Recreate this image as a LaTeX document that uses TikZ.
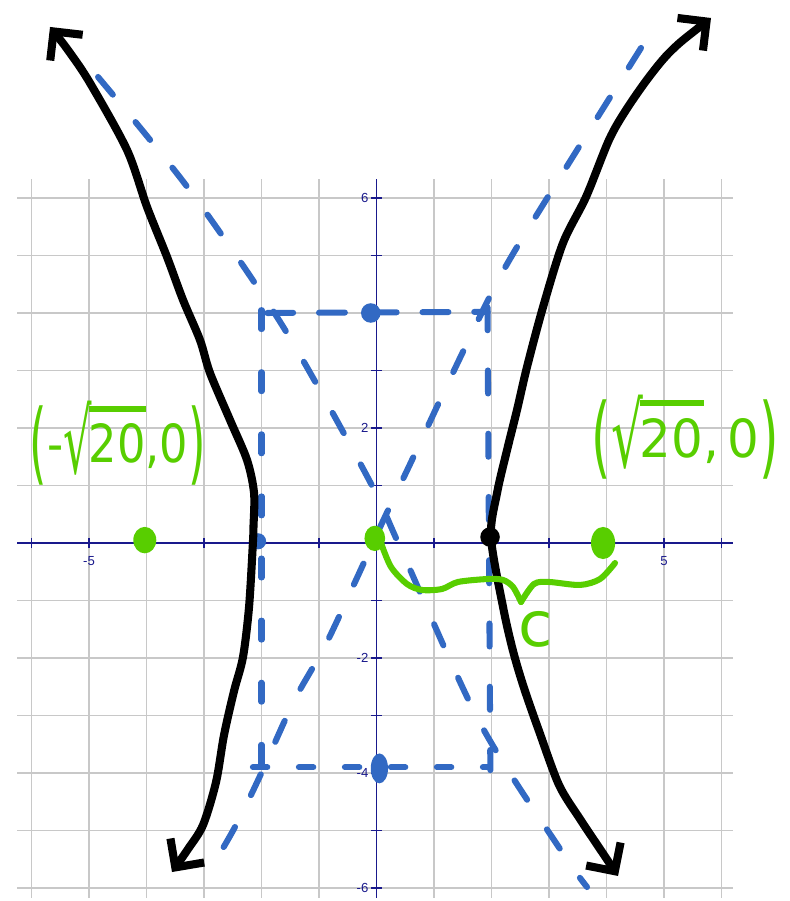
\documentclass[tikz,border=0pt]{standalone}
\usepackage{amsmath}
\usepackage{xcolor}
\usepackage{fontspec}
\usetikzlibrary{arrows.meta}

\newfontfamily\inkfont{DejaVu Sans}
\newfontfamily\tickfont{Liberation Sans}
\definecolor{gridGray}{RGB}{200,200,200}
\definecolor{axisNavy}{RGB}{25,25,140}
\definecolor{penBlue}{RGB}{50,105,195}
\definecolor{penGreen}{RGB}{88,206,0}
% tall hand-style glyphs for the focus labels
\newcommand\tallglyph[1]{\raisebox{-0.2em}{\scalebox{1}[1.7]{#1}}}
\newcommand\inkroot[1]{\tallglyph{\char"221A}\kern-0.06em\vbox{\hrule height 3pt\kern 6pt\hbox{#1}}}

\begin{document}
\begin{tikzpicture}[x=1cm,y=1cm,
  >={Straight Barb[length=0.36cm,width=0.72cm]},
  gridline/.style={draw=gridGray,line width=0.7pt},
  axisline/.style={draw=axisNavy,line width=0.8pt},
  ticklabel/.style={font=\fontsize{6.5}{7}\tickfont,text=axisNavy,inner sep=1pt},
  branch/.style={draw=black,line width=4pt,line cap=round,line join=round,<->},
  asym/.style={draw=penBlue,line width=3pt,line cap=round,dash pattern=on 0.4cm off 0.62cm},
  boxside/.style={asym,dash pattern=on 0.45cm off 0.45cm},
  ink/.style={draw=penGreen,line width=3pt,line cap=round,line join=round},
  inktext/.style={text=penGreen,inner sep=0pt,font=\fontsize{26}{30}\inkfont}]
  \useasboundingbox (-6.548,-6.226) rectangle (7.174,9.443);
  % grid
  \foreach \x in {-6,...,6}
    \draw[gridline] (\x,-6.17) -- (\x,6.33);
  \foreach \y in {-6,...,6}
    \draw[gridline] (-6.25,\y) -- (6.2,\y);
  % axes with ticks
  \draw[axisline] (-6.25,0) -- (6.2,0);
  \draw[axisline] (0,-6.17) -- (0,6.33);
  \foreach \t in {-6,...,6} {
    \draw[axisline] (\t,0.09) -- (\t,-0.09);
    \draw[axisline] (-0.09,\t) -- (0.09,\t);
  }
  \foreach \y in {6,2,-2,-4,-6}
    \node[ticklabel,anchor=east] (ylab\y) at (-0.1,\y) {\y};
  \foreach \x in {-5,5}
    \node[ticklabel,anchor=north] (xlab\x) at (\x,-0.2) {\x};
  % asymptotes and box (blue, dashed)
  \draw[asym] plot[smooth] coordinates {(-4.843,8.104) (-3.278,6.174) (-1.643,3.791)
    (-0.148,1.130) (0.409,-0.070) (1.8,-3.130) (3.226,-5.374) (3.661,-5.983)};
  \draw[asym] plot[smooth] coordinates {(4.6,8.609) (3.087,6.191) (2.183,4.696)
    (1.435,3.183) (0.617,1.443) (0.096,0.348) (-0.357,-0.643) (-0.896,-1.791)
    (-1.435,-2.748) (-2.043,-4.087) (-2.461,-4.939) (-2.965,-5.809)};
  \draw[boxside] (-1.9,4) -- (1.93,4.02);
  \draw[boxside,dash pattern=on 0.25cm off 0.55cm] (-2.15,-3.9) -- (1.93,-3.9);
  \draw[asym,dash pattern=on 0.33cm off 0.75cm] (-2,4.05) -- (-2,-4);
  \draw[asym,dash pattern=on 0.4cm off 0.7cm] (1.93,4.1) -- (1.98,-3.95);
  \fill[penBlue] (-0.1,4) circle [radius=0.17];
  \fill[penBlue] (0.05,-3.92) ellipse [x radius=0.15,y radius=0.26];
  \fill[penBlue] (-2.06,0.03) circle [radius=0.14];
  % hyperbola branches
  \draw[branch] plot[smooth] coordinates {(-5.678,8.974) (-5.330,8.522) (-4.983,8.0)
    (-4.339,6.835) (-3.991,5.843) (-3.643,4.974) (-3.365,4.226) (-3.070,3.530)
    (-2.896,2.957) (-2.548,2.139) (-2.252,1.443) (-2.130,0.870) (-2.140,0.278)
    (-2.150,0) (-2.217,-1.113) (-2.322,-1.983) (-2.478,-2.574) (-2.652,-3.339)
    (-2.791,-4.157) (-3.017,-4.904) (-3.278,-5.322) (-3.557,-5.722)};
  \draw[branch] plot[smooth] coordinates {(5.817,9.130) (5.139,8.574) (4.739,8.104)
    (4.339,7.530) (4.043,7.009) (3.643,6.017) (3.243,5.217) (2.896,4.104)
    (2.617,3.061) (2.443,2.313) (2.270,1.617) (2.096,0.870) (1.990,0.104)
    (2.2,-1.113) (2.374,-1.878) (2.565,-2.522) (2.826,-3.270) (3.174,-4.209)
    (3.539,-4.800) (3.887,-5.322) (4.2,-5.791)};
  \fill[black] (1.974,0.104) circle [radius=0.17];
  % foci, centre and distance c (green)
  \fill[penGreen] (-4.03,0.05) ellipse [x radius=0.2,y radius=0.23];
  \fill[penGreen] (-0.03,0.08) ellipse [x radius=0.18,y radius=0.22];
  \fill[penGreen] (3.94,0) ellipse [x radius=0.21,y radius=0.28];
  \draw[ink] plot[smooth] coordinates {(0.078,0) (0.252,-0.417) (0.530,-0.713)
    (0.791,-0.817) (1.139,-0.8) (1.417,-0.678) (1.939,-0.626) (2.2,-0.643)
    (2.374,-0.765) (2.513,-1.026)};
  \draw[ink] plot[smooth] coordinates {(2.513,-1.026) (2.739,-0.713) (3.0,-0.678)
    (3.539,-0.730) (3.887,-0.626) (4.148,-0.348)};
  \node[inktext] (cLabel) at (2.77,-1.5) {\fontsize{31}{34}\selectfont c};
  \node[inktext] (leftFocus) at (-4.5,1.74)
    {\scalebox{0.85}[1]{\tallglyph{(}-\inkroot{20},0\tallglyph{)}}};
  \node[inktext] (rightFocus) at (5.37,1.84)
    {\scalebox{0.95}[1]{\tallglyph{(}\inkroot{20},\,0\tallglyph{)}}};
\end{tikzpicture}
\end{document}
